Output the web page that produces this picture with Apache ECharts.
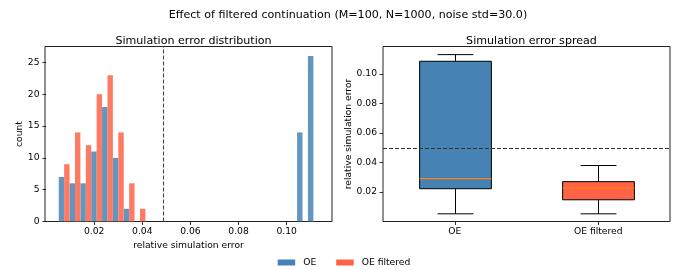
<!DOCTYPE html>
<html>
<head>
<meta charset="utf-8">
<title></title>
<style>
* { margin: 0; padding: 0; }
html, body { width: 688px; height: 270px; background: #fff; }
#main { width: 688px; height: 270px; }
</style>
</head>
<body>
<div id="main"></div>
<script src="https://cdn.jsdelivr.net/npm/echarts@6/dist/echarts.min.js"></script>
<script>
// histogram: bin centres and counts per method
var binCenters = [0.00755, 0.01205, 0.01655, 0.02105, 0.02555, 0.03005, 0.03455, 0.03905, 0.10655, 0.11105]
var countOE = [7, 6, 6, 11, 18, 10, 2, 0, 14, 26]
var countFiltered = [9, 14, 12, 20, 23, 14, 6, 2, 0, 0]

// boxplot: min, q1, median, q3, max
var boxNames = ['OE', 'OE filtered']
var boxOE = [0.0053, 0.0223, 0.0291, 0.1086, 0.1131]
var boxFiltered = [0.0053, 0.0148, 0.0227, 0.0271, 0.0380]

var threshold = 0.05
var errTicks = [0.02, 0.04, 0.06, 0.08, 0.10]

var blue = '#4682B4'
var red = '#FF6347'
var font = 'DejaVu Sans'

function pairs(xs, ys) {
	var out = []
	for (let i = 0; i < xs.length; i++) {
		out.push([xs[i], ys[i]])
	}
	return out
}

function renderBox(params, api) {
	var idx = api.value(0)
	var lo = api.coord([idx, api.value(1)])
	var q1 = api.coord([idx, api.value(2)])
	var med = api.coord([idx, api.value(3)])
	var q3 = api.coord([idx, api.value(4)])
	var hi = api.coord([idx, api.value(5)])
	var band = api.size([1, 0])[0]
	var bw = band * 0.5
	var cw = band * 0.25
	var x = Math.round(lo[0]) + 0.5
	var ls = { stroke: '#000', lineWidth: 1 }
	var fill = idx == 0 ? blue : red
	return {
		type: 'group',
		children: [
			{ type: 'line', shape: { x1: x, y1: lo[1], x2: x, y2: q1[1] }, style: ls },
			{ type: 'line', shape: { x1: x, y1: q3[1], x2: x, y2: hi[1] }, style: ls },
			{ type: 'line', shape: { x1: x - cw / 2, y1: lo[1], x2: x + cw / 2, y2: lo[1] }, style: ls },
			{ type: 'line', shape: { x1: x - cw / 2, y1: hi[1], x2: x + cw / 2, y2: hi[1] }, style: ls },
			{ type: 'rect', shape: { x: x - bw / 2, y: q3[1], width: bw, height: q1[1] - q3[1] },
				style: { fill: fill, stroke: '#000', lineWidth: 1 } },
			{ type: 'line', shape: { x1: x - bw / 2, y1: med[1], x2: x + bw / 2, y2: med[1] },
				style: { stroke: '#FF7F0E', lineWidth: 1.2 } }
		]
	}
}

var tickLabel = { fontFamily: font, fontSize: 9.2, color: '#000' }
var titleStyle = { fontFamily: font, fontSize: 11.1, fontWeight: 'normal', color: '#000' }
var tickLine = { color: '#000', width: 0.8 }

var chart = echarts.init(document.getElementById('main'))
var option = {
	animation: false,
	title: [{
		text: 'Effect of filtered continuation (M=100, N=1000, noise std=30.0)',
		left: 343, top: 5, textAlign: 'center',
		textStyle: titleStyle
	}, {
		text: 'Simulation error distribution',
		left: 188.5, top: 31, textAlign: 'center',
		textStyle: titleStyle
	}, {
		text: 'Simulation error spread',
		left: 526.5, top: 31, textAlign: 'center',
		textStyle: titleStyle
	}],
	legend: {
		top: 253, left: 'center',
		itemWidth: 17.5, itemHeight: 6, itemGap: 20,
		textStyle: { fontFamily: font, fontSize: 9.2, color: '#000', padding: [0, 0, 0, 3] },
		data: [
			{ name: 'OE', icon: 'rect', itemStyle: { color: blue, opacity: 1 } },
			{ name: 'OE filtered', icon: 'rect', itemStyle: { color: red, opacity: 1 } }
		]
	},
	grid: [
		{ left: 45, top: 46.5, width: 287, height: 175, show: true, borderColor: '#222', borderWidth: 1 },
		{ left: 383, top: 46.5, width: 287, height: 175, show: true, borderColor: '#222', borderWidth: 1 }
	],
	xAxis: [{
		type: 'value', gridIndex: 0,
		min: -0.0004, max: 0.1188,
		name: 'relative simulation error', nameLocation: 'middle', nameGap: 17,
		nameTextStyle: tickLabel,
		axisLine: { show: false },
		axisTick: { show: true, length: 3.5, customValues: errTicks, lineStyle: tickLine },
		axisLabel: { margin: 6, customValues: errTicks, formatter: function(v) { return v.toFixed(2) }, ...tickLabel },
		splitLine: { show: false }
	}, {
		type: 'category', gridIndex: 1,
		data: boxNames,
		axisLine: { show: false },
		axisTick: { show: true, length: 3.5, alignWithLabel: true, lineStyle: tickLine },
		axisLabel: { margin: 6, ...tickLabel },
		splitLine: { show: false }
	}],
	yAxis: [{
		type: 'value', gridIndex: 0,
		min: 0, max: 27.5, interval: 5,
		name: 'count', nameLocation: 'middle', nameGap: 21,
		nameTextStyle: tickLabel,
		axisLine: { show: false },
		axisTick: { show: true, length: 3.5, lineStyle: tickLine },
		axisLabel: { margin: 5.5, showMaxLabel: false, ...tickLabel },
		splitLine: { show: false }
	}, {
		type: 'value', gridIndex: 1,
		min: 0.0001, max: 0.1186,
		name: 'relative simulation error', nameLocation: 'middle', nameGap: 30,
		nameTextStyle: tickLabel,
		axisLine: { show: false },
		axisTick: { show: true, length: 3.5, customValues: errTicks, lineStyle: tickLine },
		axisLabel: { margin: 6, customValues: errTicks, formatter: function(v) { return v.toFixed(2) }, ...tickLabel },
		splitLine: { show: false }
	}],
	series: [{
		name: 'OE', type: 'bar', xAxisIndex: 0, yAxisIndex: 0,
		data: pairs(binCenters, countOE),
		barWidth: 5.4, barGap: '0%',
		itemStyle: { color: blue, opacity: 0.85 },
		markLine: {
			silent: true, symbol: 'none', label: { show: false },
			lineStyle: { color: '#444', type: [4, 2], width: 1.1 },
			data: [{ xAxis: threshold }]
		}
	}, {
		name: 'OE filtered', type: 'bar', xAxisIndex: 0, yAxisIndex: 0,
		data: pairs(binCenters, countFiltered),
		barWidth: 5.4, barGap: '0%',
		itemStyle: { color: red, opacity: 0.85 }
	}, {
		name: 'spread', type: 'custom', xAxisIndex: 1, yAxisIndex: 1,
		renderItem: renderBox,
		encode: { x: 0, y: [1, 2, 3, 4, 5] },
		data: [[0].concat(boxOE), [1].concat(boxFiltered)]
	}, {
		name: 'limit', type: 'line', xAxisIndex: 1, yAxisIndex: 1,
		data: [],
		markLine: {
			silent: true, symbol: 'none', label: { show: false },
			lineStyle: { color: '#333', type: [4, 2], width: 1.1 },
			data: [{ yAxis: threshold }]
		}
	}]
}
chart.setOption(option)
</script>
</body>
</html>
